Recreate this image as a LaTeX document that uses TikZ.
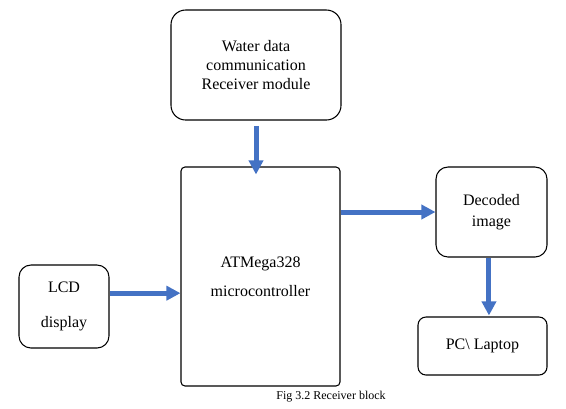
\documentclass[tikz,border=0pt]{standalone}
\usepackage{fontspec}
\setmainfont{Liberation Serif}
\usepackage{xcolor}
\usetikzlibrary{arrows.meta,calc}
\definecolor{arrowblue}{HTML}{4472C4}

\begin{document}
\begin{tikzpicture}[x=0.75pt,y=-0.75pt,
        block/.style={draw=black,thick,align=center,font=\fontsize{12}{14}\selectfont},
        flow/.style={draw=arrowblue,line width=3.75pt,-{Triangle[length=10.5pt,width=10.5pt]}}]
            \useasboundingbox (0,0) rectangle (566,408);
            % blocks
            \node[block,rounded corners=11pt,minimum width=127.5pt,minimum height=82.5pt] (water) at (256,65)
                {Water data\\communication\\Receiver module};
            \node[block,rounded corners=3pt,minimum width=119.25pt,minimum height=164.25pt] (mcu) at (260.5,276.5)
                {ATMega328\\[8pt]microcontroller};
            \node[block,rounded corners=9pt,minimum width=83.25pt,minimum height=67.5pt] (decoded) at (491.5,212)
                {Decoded\\[2pt]image};
            \node[block,rounded corners=6pt,minimum width=96.75pt,minimum height=43.5pt] (pc) at (482.5,346)
                {PC\textbackslash{} Laptop};
            \node[block,rounded corners=9pt,minimum width=67.5pt,minimum height=62.25pt] (lcd) at (64,306.5)
                {LCD\\[12pt]display};
            % arrows
            \draw[flow,shorten <=4pt,shorten >=-6pt] (water.south) -- (water.south |- mcu.north);
            \draw[flow] (mcu.east |- decoded.west) -- (decoded.west);
            \draw[flow,shorten >=0.75pt] ([xshift=-1.9pt]decoded.south) -- ([xshift=-1.9pt]decoded.south |- pc.north);
            \draw[flow] ([yshift=10pt]lcd.east) -- ([yshift=10pt]lcd.east -| mcu.west);
            % caption
            \node[font=\fontsize{9}{11}\selectfont] (caption) at (331,397) {Fig 3.2 Receiver block};
\end{tikzpicture}
\end{document}
